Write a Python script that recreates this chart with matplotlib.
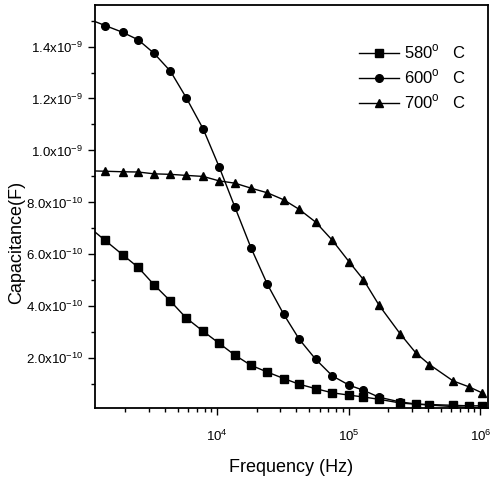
import matplotlib
matplotlib.use("Agg")
import matplotlib.pyplot as plt
from matplotlib.ticker import FixedLocator, FixedFormatter, LogLocator, NullFormatter

plt.rcParams['font.family'] = ['Liberation Sans', 'DejaVu Sans']
plt.rcParams['mathtext.fontset'] = 'custom'
plt.rcParams['mathtext.rm'] = 'Liberation Sans'

# frequency points (Hz); first one sits just left of the axis
freq = [1.0e3, 1.4e3, 1.9e3, 2.5e3, 3.3e3, 4.4e3, 5.8e3, 7.8e3, 1.03e4, 1.36e4,
        1.8e4, 2.4e4, 3.2e4, 4.2e4, 5.6e4, 7.5e4, 1.01e5, 1.29e5, 1.7e5, 2.45e5,
        3.24e5, 4.1e5, 6.2e5, 8.2e5, 1.03e6]

# capacitance in units of 1e-10 F
c580 = [7.15, 6.54, 5.99, 5.50, 4.83, 4.20, 3.55, 3.04, 2.58, 2.12, 1.73, 1.47, 1.22,
        1.00, 0.83, 0.67, 0.58, 0.51, 0.42, 0.28, 0.23, 0.22, 0.19, 0.17, 0.17]
c600 = [15.1, 14.81, 14.55, 14.26, 13.74, 13.05, 12.03, 10.83, 9.38, 7.82, 6.26, 4.85,
        3.69, 2.73, 1.96, 1.32, 0.96, 0.77, 0.50, 0.32, 0.24, 0.20, 0.14, 0.11, 0.10]
c700 = [9.22, 9.20, 9.18, 9.17, 9.10, 9.08, 9.04, 9.00, 8.83, 8.74, 8.55, 8.37, 8.10,
        7.73, 7.24, 6.54, 5.70, 5.03, 4.04, 2.95, 2.20, 1.76, 1.13, 0.90, 0.67]

labels = ['580$^{\\mathregular{o}}$   C', '600$^{\\mathregular{o}}$   C', '700$^{\\mathregular{o}}$   C']
markers = ['s', 'o', '^']

y_ticks = [2e-10, 4e-10, 6e-10, 8e-10, 1.0e-9, 1.2e-9, 1.4e-9]
y_ticklabels = ['2.0x10$^{\\mathregular{-10}}$', '4.0x10$^{\\mathregular{-10}}$',
                '6.0x10$^{\\mathregular{-10}}$', '8.0x10$^{\\mathregular{-10}}$',
                '1.0x10$^{\\mathregular{-9}}$', '1.2x10$^{\\mathregular{-9}}$',
                '1.4x10$^{\\mathregular{-9}}$']

fig = plt.figure(figsize=(4.9, 4.79), dpi=100)
ax = fig.add_axes([0.194, 0.149, 0.802, 0.8406])

for vals, lab, mk in zip([c580, c600, c700], labels, markers):
    ax.plot(freq, [v * 1e-10 for v in vals], color='black', lw=1.0, marker=mk,
            markersize=5.5 if mk != '^' else 6.2, markerfacecolor='black',
            markeredgecolor='black', label=lab)

ax.set_xscale('log')
ax.set_xlim(1175, 1.145e6)
ax.set_ylim(1e-11, 1.56e-9)

ax.xaxis.set_major_locator(FixedLocator([1e4, 1e5, 1e6]))
ax.xaxis.set_major_formatter(FixedFormatter(['10$^{\\mathregular{4}}$', '10$^{\\mathregular{5}}$',
                                             '10$^{\\mathregular{6}}$']))
ax.xaxis.set_minor_locator(LogLocator(base=10, subs=range(2, 10)))
ax.xaxis.set_minor_formatter(NullFormatter())

ax.yaxis.set_major_locator(FixedLocator(y_ticks))
ax.yaxis.set_major_formatter(FixedFormatter(y_ticklabels))
ax.yaxis.set_minor_locator(FixedLocator([1e-10, 3e-10, 5e-10, 7e-10, 9e-10, 1.1e-9, 1.3e-9, 1.5e-9]))

ax.tick_params(which='major', direction='out', length=5, width=1, labelsize=9.5)
ax.tick_params(axis='x', which='major', pad=10)
ax.tick_params(which='minor', direction='out', length=3, width=1)
for s in ax.spines.values():
    s.set_linewidth(1.3)

ax.set_xlabel('Frequency (Hz)', fontsize=13, labelpad=11)
ax.set_ylabel('Capacitance(F)', fontsize=13)
ax.yaxis.set_label_coords(-0.178, 0.41)

ax.legend(loc='upper right', bbox_to_anchor=(0.975, 0.935), frameon=False, fontsize=12,
          handlelength=2.4, handletextpad=0.3, labelspacing=0.38, borderpad=0.2)

fig.savefig('out.png', dpi=100)
